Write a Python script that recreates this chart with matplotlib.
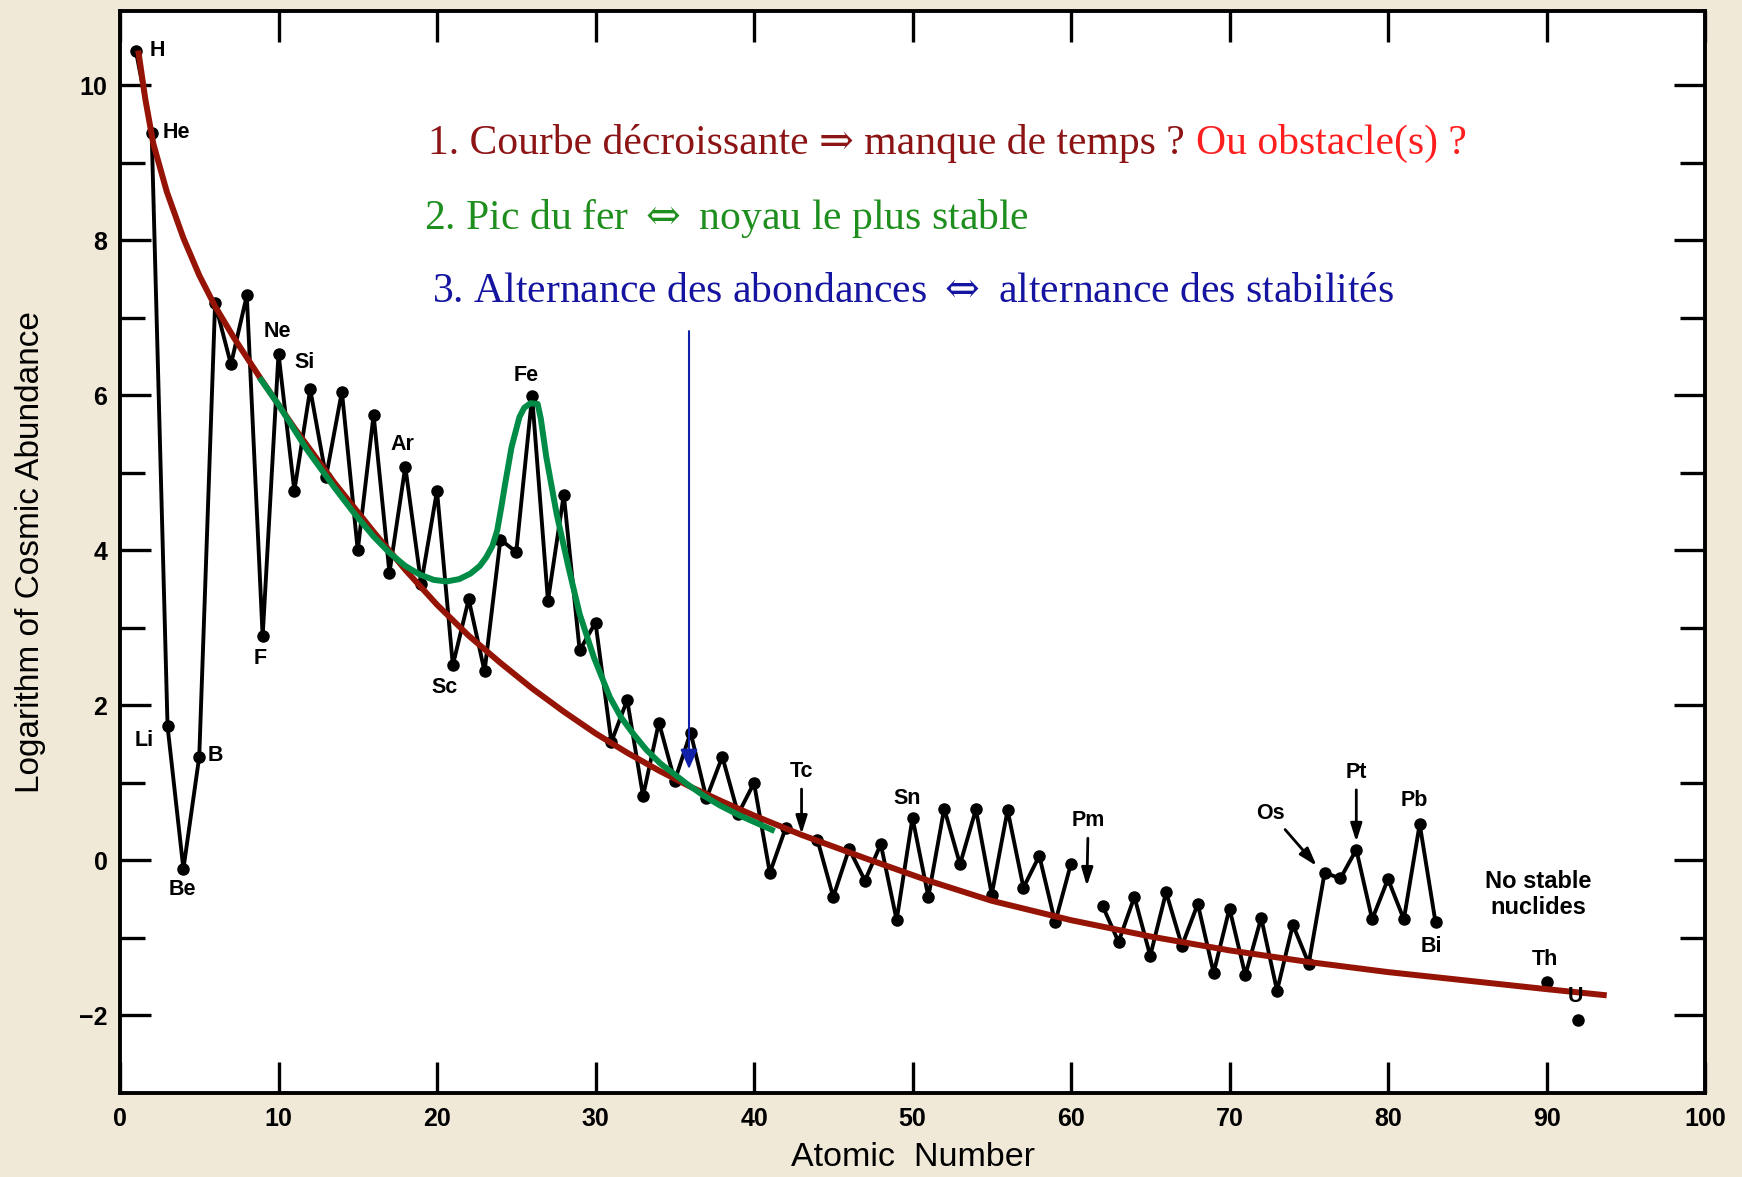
import numpy as np
import matplotlib.pyplot as plt

plt.rcParams['font.family'] = ['Liberation Sans', 'DejaVu Sans']
plt.rcParams['mathtext.fontset'] = 'dejavuserif'

# atomic numbers of the plotted elements (Tc=43 and Pm=61 have no point)
atomic_number = list(range(1, 43)) + list(range(44, 61)) + list(range(62, 84)) + [90, 92]
log_abundance = [
    10.45, 9.38, 1.73, -0.11, 1.34, 7.19, 6.40, 7.29, 2.89, 6.54,      # 1-10
    4.77, 6.08, 4.95, 6.05, 4.00, 5.75, 3.71, 5.08, 3.57, 4.77,        # 11-20
    2.52, 3.37, 2.44, 4.14, 3.98, 5.99, 3.35, 4.72, 2.71, 3.07,        # 21-30
    1.53, 2.07, 0.83, 1.78, 1.03, 1.65, 0.80, 1.34, 0.60, 1.00,        # 31-40
    -0.16, 0.42,                                                       # 41-42
    0.27, -0.47, 0.15, -0.26, 0.21, -0.77, 0.55, -0.47, 0.67, -0.05,   # 44-53
    0.66, -0.44, 0.65, -0.35, 0.06, -0.80, -0.04,                      # 54-60
    -0.59, -1.05, -0.47, -1.23, -0.41, -1.10, -0.56, -1.45, -0.62, -1.48,  # 62-71
    -0.74, -1.68, -0.83, -1.33, -0.16, -0.23, 0.14, -0.76, -0.24, -0.76,   # 72-81
    0.47, -0.80,                                                       # 82-83
    -1.57, -2.06,                                                      # Th, U
]

# red trend curve
trend_z = [1.15, 1.6, 2.1, 2.95, 4.0, 5.0, 6.0, 7.2, 8.8, 11.0, 13.5, 16.0, 18.0,
           20.0, 22.0, 24.0, 26.0, 28.0, 30.0, 32.0, 34.0, 36.0, 38.0, 40.0, 43.0,
           47.0, 51.0, 55.0, 60.0, 65.0, 70.0, 75.0, 80.0, 85.0, 90.0, 93.8]
trend_y = [10.45, 9.82, 9.25, 8.63, 8.03, 7.55, 7.15, 6.74, 6.24, 5.58, 4.88, 4.24, 3.75,
           3.30, 2.90, 2.55, 2.22, 1.92, 1.64, 1.39, 1.16, 0.95, 0.76, 0.58, 0.33,
           0.03, -0.26, -0.52, -0.77, -0.98, -1.16, -1.31, -1.44, -1.55, -1.66, -1.74]

# green curve (iron peak)
iron_z = [8.8, 10.0, 11.8, 13.5, 14.7, 16.0, 17.0, 18.0, 18.9, 19.8, 20.6, 21.4, 22.1,
          22.7, 23.1, 23.5, 23.8, 24.05, 24.3, 24.7, 25.2, 25.5, 25.9, 26.35, 26.55,
          26.9, 27.55, 28.3, 29.0, 29.9, 30.9, 31.6, 32.4, 33.2, 34.1, 35.0, 35.75,
          36.8, 37.85, 39.1, 40.2, 41.3]
iron_y = [6.23, 5.88, 5.30, 4.82, 4.50, 4.18, 3.97, 3.80, 3.69, 3.62, 3.60, 3.63, 3.70,
          3.80, 3.91, 4.06, 4.26, 4.55, 4.86, 5.33, 5.72, 5.84, 5.90, 5.89, 5.70,
          5.20, 4.47, 3.78, 3.18, 2.62, 2.11, 1.85, 1.63, 1.43, 1.25, 1.11, 0.99,
          0.84, 0.71, 0.58, 0.48, 0.38]

# element labels: symbol, Z, offset (points), horizontal alignment
element_labels = [
    ('H', 1, (10, 0), 'left'), ('He', 2, (8, 1), 'left'), ('Li', 3, (-17, -10), 'center'),
    ('Be', 4, (-1, -15), 'center'), ('B', 5, (6, 1), 'left'), ('F', 9, (-2, -16), 'center'),
    ('Ne', 10, (-1, 16), 'center'), ('Si', 12, (-4, 19), 'center'),
    ('Ar', 18, (-2, 16), 'center'), ('Fe', 26, (-4, 15), 'center'),
    ('Sc', 21, (-6, -16), 'center'), ('Sn', 50, (-4, 14), 'center'),
    ('Pb', 82, (-4, 17), 'center'), ('Bi', 83, (-3, -17), 'center'),
    ('Th', 90, (-1, 16), 'center'), ('U', 92, (-2, 17), 'center'),
]
# arrowed labels: symbol, arrow tip (Z, log), text offset (points)
arrow_labels = [
    ('Tc', (43, 0.34), (0, 45)), ('Pm', (61, -0.33), (1, 47)),
    ('Pt', (78, 0.24), (0, 50)), ('Os', (75.5, -0.07), (-33, 38)),
]

fig = plt.figure(figsize=(17.42, 11.77), dpi=100, facecolor='#f1e9d8')
ax = fig.add_axes([120 / 1742, 84 / 1177, 1585 / 1742, 1082 / 1177])
ax.set_facecolor('white')

z = np.array(atomic_number, dtype=float)
y = np.array(log_abundance, dtype=float)
# break the line where elements are missing
breaks = np.where(np.diff(z) > 1)[0] + 1
zl = np.insert(z, breaks, np.nan)
yl = np.insert(y, breaks, np.nan)
ax.plot(zl, yl, color='black', lw=2.8, zorder=3)
ax.plot(z, y, 'o', color='black', ms=8, zorder=4)

ax.plot(trend_z, trend_y, color='#961405', lw=4.3, solid_capstyle='butt', zorder=5)
ax.plot(iron_z, iron_y, color='#008c46', lw=4.3, solid_capstyle='butt', zorder=6)

ax.annotate('', xy=(35.9, 1.18), xytext=(35.9, 6.83),
            arrowprops=dict(arrowstyle='-|>,head_length=0.8,head_width=0.35',
                            color='#1020a8', lw=1.5, mutation_scale=15,
                            shrinkA=0, shrinkB=0), zorder=7)

lookup = dict(zip(atomic_number, log_abundance))
for sym, zz, off, ha in element_labels:
    ax.annotate(sym, xy=(zz, lookup[zz]), xytext=off, textcoords='offset points',
                ha=ha, va='center', fontsize=15.5, fontweight='bold', zorder=8)
for sym, tip, off in arrow_labels:
    ax.annotate(sym, xy=tip, xytext=off, textcoords='offset points',
                ha='center', va='center', fontsize=15.5, fontweight='bold', zorder=8,
                arrowprops=dict(arrowstyle='-|>,head_length=0.7,head_width=0.22',
                                color='black', lw=2, shrinkA=3, shrinkB=0))

ax.text(89.5, -0.44, 'No stable\nnuclides', ha='center', va='center',
        fontsize=17, fontweight='bold', linespacing=1.15)

serif = ['Liberation Serif', 'DejaVu Serif']
t1 = ax.text(19.43, 9.12, '1. Courbe décroissante ⇒ manque de temps ?',
             family=serif, fontsize=30, color='#8c1414', va='baseline')
ax.annotate('Ou obstacle(s) ?', xy=(1, 0), xycoords=t1, xytext=(8, 0),
            textcoords='offset points', va='bottom', ha='left',
            family=serif, fontsize=30, color='#ff1e1e')
ax.text(19.21, 8.15, '2. Pic du fer $\\Leftrightarrow$ noyau le plus stable',
        family=serif, fontsize=30, color='#1e8f1e', va='baseline')
ax.text(19.66, 7.20, '3. Alternance des abondances $\\Leftrightarrow$ alternance des stabilités',
        family=serif, fontsize=30, color='#1414a0', va='baseline')

ax.set_xlim(0, 100)
ax.set_ylim(-3, 10.96)
ax.set_xticks(range(0, 101, 10))
ax.set_yticks(range(-2, 11, 2))
ax.set_yticks(range(-1, 11, 2), minor=True)
ax.tick_params(which='both', direction='in', top=True, right=True,
               width=2.4, labelsize=18, color='black')
ax.tick_params(which='major', length=22)
ax.tick_params(which='minor', length=18)
ax.tick_params(axis='x', pad=10)
ax.tick_params(axis='y', pad=9)
for lab in ax.get_xticklabels() + ax.get_yticklabels():
    lab.set_fontweight('bold')
for sp in ax.spines.values():
    sp.set_linewidth(2.8)

ax.set_xlabel('Atomic  Number', fontsize=24.5)
ax.set_ylabel('Logarithm of Cosmic Abundance', fontsize=24)
ax.xaxis.set_label_coords(0.5, -0.045)
ax.yaxis.set_label_coords(-0.047, 0.5)

fig.savefig('out.png', dpi=100, facecolor=fig.get_facecolor())
